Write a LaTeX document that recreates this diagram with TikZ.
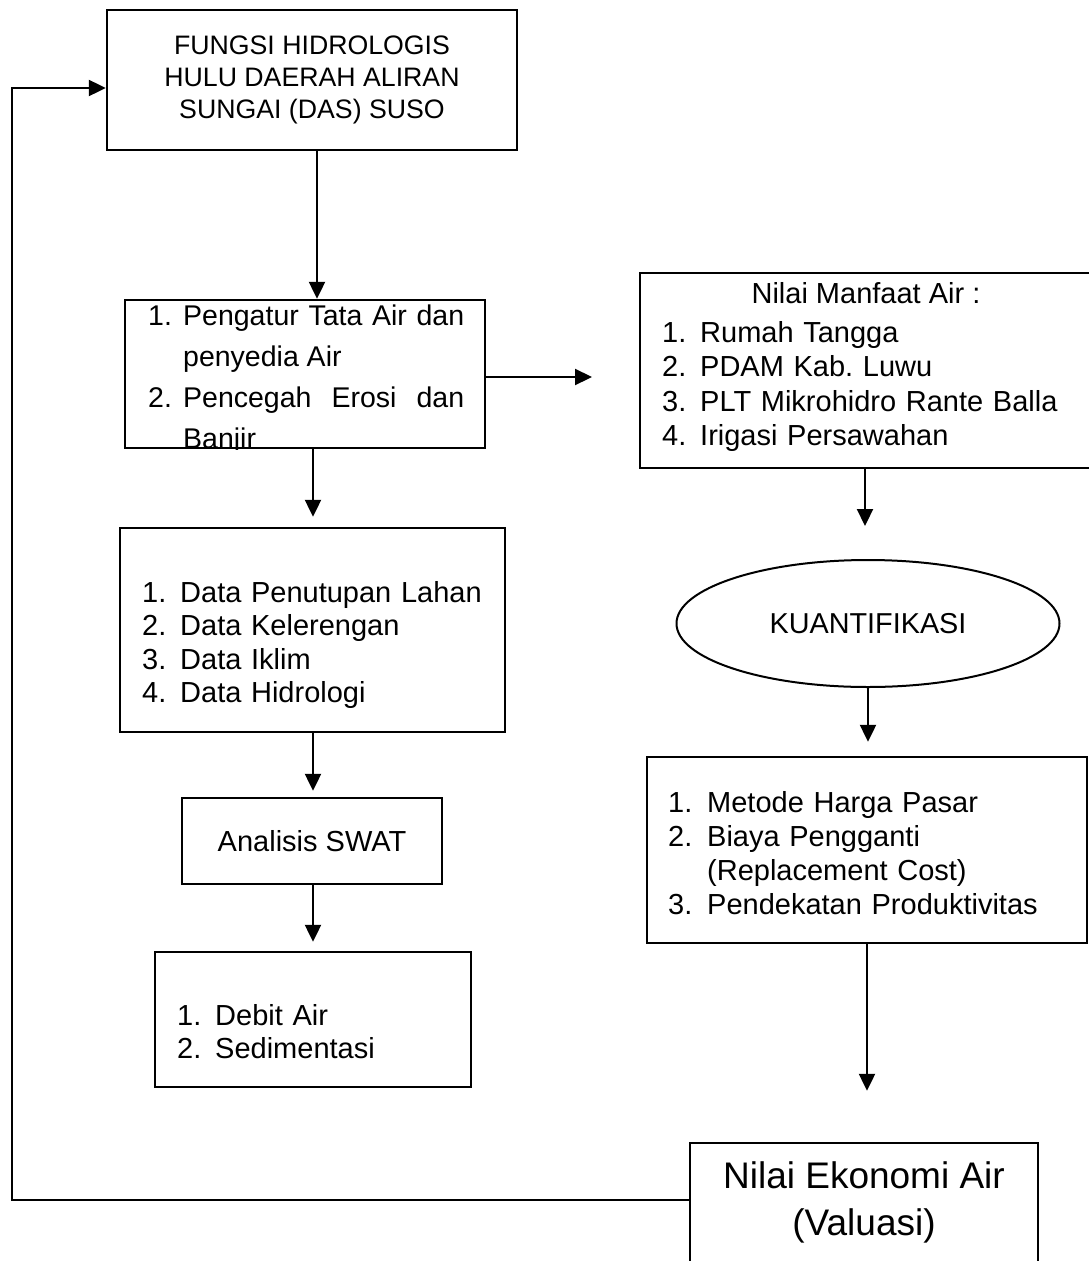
\documentclass[tikz,border=0pt]{standalone}
\usepackage{fontspec}
\setmainfont{Liberation Sans}
\usetikzlibrary{arrows.meta,shapes.geometric}
\newcommand{\itm}[3]{\hangindent=#1\hangafter=1\noindent\makebox[#1][l]{#2}#3\par}
\begin{document}
\frenchspacing
\begin{tikzpicture}[x=1pt,y=-1pt,
  box/.style={draw, line width=2.4pt, inner sep=0pt},
  oval/.style={draw, ellipse, line width=2pt, inner sep=0pt},
  txt/.style={inner sep=0pt, align=left, anchor=north west},
  arr/.style={line width=2.2pt, -{Triangle[length=17pt,width=16pt]}},
  ln/.style={line width=2.2pt}]
\useasboundingbox (0,0) rectangle (1089,1261);
\fill[white] (0,0) rectangle (1089,1261);

% boxes
\node[box, minimum width=410pt, minimum height=140pt, align=center,
  font=\fontsize{26.7}{32}\selectfont] (top) at (312,80)
  {FUNGSI HIDROLOGIS\\HULU DAERAH ALIRAN\\SUNGAI (DAS) SUSO};

\node[box, minimum width=360pt, minimum height=148pt] (fungsi) at (305,374) {};
\begin{scope}
\clip (fungsi.north west) rectangle (fungsi.south east);
\node[txt, text width=316pt, align=justify, font=\fontsize{28.5}{41}\selectfont] (fungsitxt) at (148,304.5)
  {\tolerance=10000\itm{35pt}{1.}{Pengatur Tata Air dan penyedia Air}\itm{35pt}{2.}{Pencegah Erosi dan Banjir}};
\end{scope}

\node[box, minimum width=452pt, minimum height=195pt] (manfaat) at (866,370.5) {};
\node[inner sep=0pt, anchor=base, font=\fontsize{29}{35}\selectfont] (mftitle) at (866,303) {Nilai Manfaat Air :};
\node[txt, text width=420pt, font=\fontsize{29}{34.3}\selectfont] (mftxt) at (662,321.2)
  {\itm{38pt}{1.}{Rumah Tangga}\itm{38pt}{2.}{PDAM Kab. Luwu}\itm{38pt}{3.}{PLT Mikrohidro Rante Balla}\itm{38pt}{4.}{Irigasi Persawahan}};

\node[box, minimum width=385pt, minimum height=204pt] (data) at (312.5,630) {};
\node[txt, text width=360pt, font=\fontsize{29}{33.3}\selectfont] (datatxt) at (142,581.2)
  {\itm{38pt}{1.}{Data Penutupan Lahan}\itm{38pt}{2.}{Data Kelerengan}\itm{38pt}{3.}{Data Iklim}\itm{38pt}{4.}{Data Hidrologi}};

\node[oval, minimum width=383pt, minimum height=127pt, font=\fontsize{28.8}{34}\selectfont] (kuant) at (868,623.5) {KUANTIFIKASI};

\node[box, minimum width=260pt, minimum height=86pt, font=\fontsize{29}{34}\selectfont] (swat) at (312,841) {Analisis SWAT};

\node[box, minimum width=440pt, minimum height=186pt] (metode) at (867,850) {};
\node[txt, text width=415pt, font=\fontsize{29}{34}\selectfont] (metodetxt) at (668,791.2)
  {\itm{39pt}{1.}{Metode Harga Pasar}\itm{39pt}{2.}{Biaya Pengganti\newline(Replacement Cost)}\itm{39pt}{3.}{Pendekatan Produktivitas}};

\node[box, minimum width=316pt, minimum height=135pt] (debit) at (313,1019.5) {};
\node[txt, text width=290pt, font=\fontsize{29}{33}\selectfont] (debittxt) at (177,1004.2)
  {\itm{38pt}{1.}{Debit Air}\itm{38pt}{2.}{Sedimentasi}};

\node[box, minimum width=348pt, minimum height=132pt] (ekonomi) at (864,1209) {};
\node[inner sep=0pt, anchor=north, align=center, font=\fontsize{37}{47}\selectfont] (ekonomitxt) at (864,1161.5)
  {Nilai Ekonomi Air\\(Valuasi)};

% connectors
\coordinate (xa) at (317,0);
\coordinate (xb) at (313,0);
\coordinate (xr1) at (865,0);
\coordinate (xr2) at (868,0);
\coordinate (xr3) at (867,0);
\coordinate (ya) at (0,377);
\coordinate (mfin) at (592,377);
\coordinate (fb1) at (12,1200);
\coordinate (fb2) at (12,88);

\draw[arr] (top.south -| xa) -- (fungsi.north -| xa);
\draw[arr] (fungsi.east |- ya) -- (mfin);
\draw[arr, shorten >=10pt] (fungsi.south -| xb) -- (data.north -| xb);
\draw[arr, shorten >=6pt] (data.south -| xb) -- (swat.north -| xb);
\draw[arr, shorten >=9pt] (swat.south -| xb) -- (debit.north -| xb);
\draw[arr, shorten >=33pt] (manfaat.south -| xr1) -- (kuant.north -| xr1);
\draw[arr, shorten >=14pt] (kuant.south -| xr2) -- (metode.north -| xr2);
\draw[arr, shorten >=51pt] (metode.south -| xr3) -- (ekonomi.north -| xr3);
\draw[arr] (ekonomi.west |- fb1) -- (fb1) -- (fb2) -- (fb2 -| top.west);
\end{tikzpicture}
\end{document}
